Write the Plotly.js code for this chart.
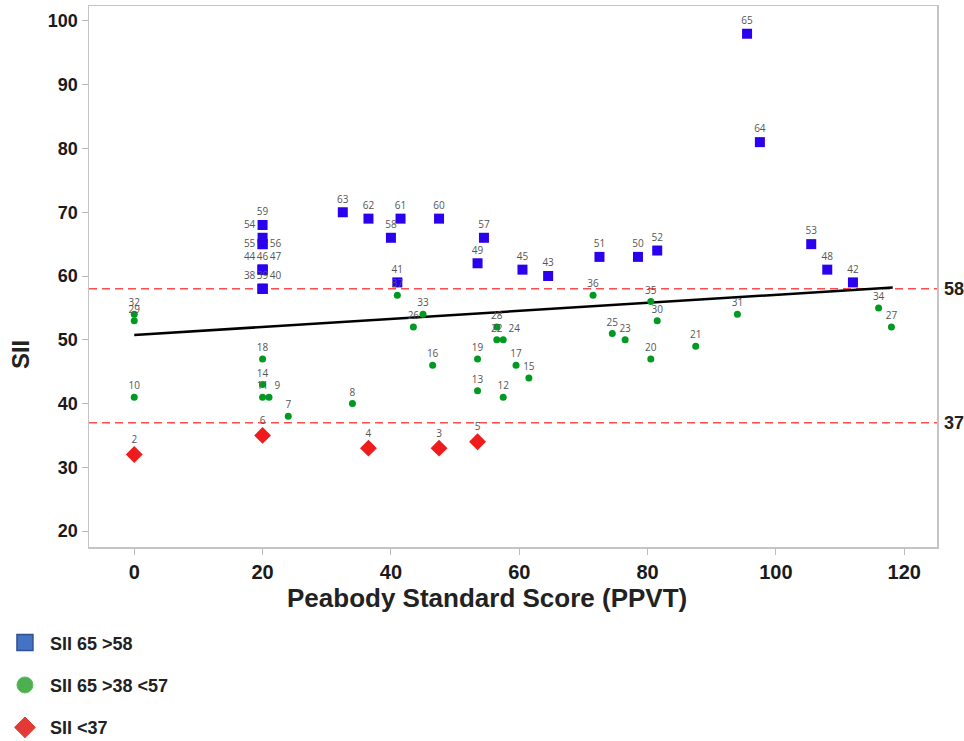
<!DOCTYPE html>
<html>
<head>
<meta charset="utf-8">
<script src="https://cdn.plot.ly/plotly-3.0.1.min.js"></script>
<style>html,body{margin:0;padding:0;background:#fff;}#chart{width:964px;height:741px;}</style>
</head>
<body>
<div id="chart"></div>
<script>
// ---- Data ----
// High group: SII 65 > 58 (blue squares)
const highIds = ["65","64","53","48","42","52","50","51","43","45","57","49","60","61","62","63","58","41","59","54","55","56","44","46","47","38","39","40"];
const highX   = [95.5,97.5,105.5,108,112,81.5,78.5,72.5,64.5,60.5,54.5,53.5,47.5,41.5,36.5,32.5,40,41,20,20,20,20,20,20,20,20,20,20];
const highY   = [98,81,65,61,59,64,63,63,60,61,66,62,69,69,69,70,66,59,68,66,65,65,61,61,61,58,58,58];

// Middle group: SII 65 > 38 < 57 (green circles)
const midIds = ["32","29","10","18","14","11","9","7","8","37","33","26","16","19","13","28","22","24","17","15","12","36","35","30","25","23","20","21","31","34","27"];
const midX   = [0,0,0,20,20,20,21,24,34,41,45,43.5,46.5,53.5,53.5,56.5,56.5,57.5,59.5,61.5,57.5,71.5,80.5,81.5,74.5,76.5,80.5,87.5,94,116,118];
const midY   = [54,53,41,47,43,41,41,38,40,57,54,52,46,47,42,52,50,50,46,44,41,57,56,53,51,50,47,49,54,55,52];

// Low group: SII < 37 (red diamonds)
const lowIds = ["2","6","4","3","5"];
const lowX   = [0,20,36.5,47.5,53.5];
const lowY   = [32,35,33,33,34];

// Trend line end points
const trendX = [0, 118.2];
const trendY = [50.75, 58.2];

// Threshold reference lines
const thresholds = [58, 37];
const thresholdLabels = ["58", "37"];

// Tick values
const xTicks = [0, 20, 40, 60, 80, 100, 120];
const yTicks = [20, 30, 40, 50, 60, 70, 80, 90, 100];

// Legend names
const legendNames = ["SII 65 >58", "SII 65 >38 <57", "SII <37"];

// ---- Label positions ----
function positions(ids, special) {
  return ids.map(id => special[id] || "top center");
}
const highPos = positions(highIds, {
  "54": "top left", "55": "middle left", "56": "middle right",
  "44": "top left", "46": "top center", "47": "top right",
  "38": "top left", "39": "top center", "40": "top right"
});
const midPos = positions(midIds, {"9": "top right", "24": "top right"});
const lowPos = positions(lowIds, {});

const labelFont = {family: "Open Sans, DejaVu Sans, sans-serif", size: 10, color: "#555"};

const traces = [
  {
    type: "scatter", mode: "lines", x: trendX, y: trendY,
    line: {color: "#000", width: 2.5}, showlegend: false, hoverinfo: "skip"
  },
  {
    type: "scatter", mode: "markers+text", x: highX, y: highY, text: highIds,
    textposition: highPos, textfont: labelFont,
    marker: {symbol: "square", size: 10, color: "#2a00ee", line: {width: 0}},
    showlegend: false, cliponaxis: false
  },
  {
    type: "scatter", mode: "markers+text", x: midX, y: midY, text: midIds,
    textposition: midPos, textfont: labelFont,
    marker: {symbol: "circle", size: 7, color: "#009a22", line: {width: 0}},
    showlegend: false, cliponaxis: false
  },
  {
    type: "scatter", mode: "markers+text", x: lowX, y: lowY, text: lowIds,
    textposition: lowPos, textfont: labelFont,
    marker: {symbol: "diamond", size: 13, color: "#ee1c1c", line: {width: 0}},
    showlegend: false, cliponaxis: false
  },
  // legend entries
  {
    type: "scatter", mode: "markers", x: [null], y: [null], name: legendNames[0],
    marker: {symbol: "square", size: 16, color: "#4472c4", line: {color: "#2f528f", width: 1.5}},
    legendgroup: "a"
  },
  {
    type: "scatter", mode: "markers", x: [null], y: [null], name: legendNames[1],
    marker: {symbol: "circle", size: 16, color: "#4caf50", line: {color: "#5cbf60", width: 1}},
    legendgroup: "b"
  },
  {
    type: "scatter", mode: "markers", x: [null], y: [null], name: legendNames[2],
    marker: {symbol: "diamond", size: 16, color: "#e53935", line: {color: "#e53935", width: 1}},
    legendgroup: "c"
  }
];

const shapes = thresholds.map(t => ({
  type: "line", xref: "paper", x0: 0, x1: 1, yref: "y", y0: t, y1: t,
  line: {color: "#ff4d4d", width: 1.5, dash: "8px,5px"}, layer: "below"
}));

const annotations = thresholds.map((t, i) => ({
  xref: "paper", x: 1, yref: "y", y: t, text: thresholdLabels[i],
  xanchor: "left", yanchor: "middle", xshift: 5, showarrow: false,
  font: {family: "Liberation Sans, Arial, sans-serif", size: 18, color: "#222", weight: "bold"}
}));
annotations.push({
  xref: "paper", x: 0.4688, yref: "paper", y: -0.094,
  text: "Peabody Standard Score (PPVT)", xanchor: "center", yanchor: "middle",
  showarrow: false,
  font: {family: "Liberation Sans, Arial, sans-serif", size: 26, color: "#222", weight: "bold"}
});
annotations.push({
  xref: "paper", x: -0.08, yref: "paper", y: 0.355,
  text: "SII", textangle: -90, xanchor: "center", yanchor: "middle",
  showarrow: false,
  font: {family: "Liberation Sans, Arial, sans-serif", size: 24, color: "#222", weight: "bold"}
});

const layout = {
  width: 964, height: 741,
  margin: {l: 89, r: 27, t: 6, b: 194, pad: 0, autoexpand: false},
  paper_bgcolor: "#fff", plot_bgcolor: "#fff",
  showlegend: true,
  legend: {
    orientation: "v", x: -0.105, xanchor: "left", y: -0.143, yanchor: "top",
    font: {family: "Liberation Sans, Arial, sans-serif", size: 18, color: "#222", weight: "bold"},
    tracegroupgap: 16, itemwidth: 40, bgcolor: "rgba(0,0,0,0)"
  },
  xaxis: {
    range: [-7.05, 125.1], tickvals: xTicks, ticks: "outside", ticklen: 6,
    tickcolor: "#bbb", tickwidth: 1, showline: true, mirror: true,
    linecolor: "#c4c4c4", linewidth: 1.5, showgrid: false, zeroline: false,
    tickfont: {family: "Liberation Sans, Arial, sans-serif", size: 20, color: "#1a1a1a", weight: "bold"}
  },
  yaxis: {
    range: [17.5, 102.35], tickvals: yTicks, ticks: "outside", ticklen: 6,
    tickcolor: "#bbb", tickwidth: 1, showline: true, mirror: true,
    linecolor: "#c4c4c4", linewidth: 1.5, showgrid: false, zeroline: false,
    tickfont: {family: "Liberation Sans, Arial, sans-serif", size: 18, color: "#1a1a1a", weight: "bold"}
  },
  shapes: shapes,
  annotations: annotations
};

Plotly.newPlot("chart", traces, layout, {displayModeBar: false, staticPlot: true});
</script>
</body>
</html>
